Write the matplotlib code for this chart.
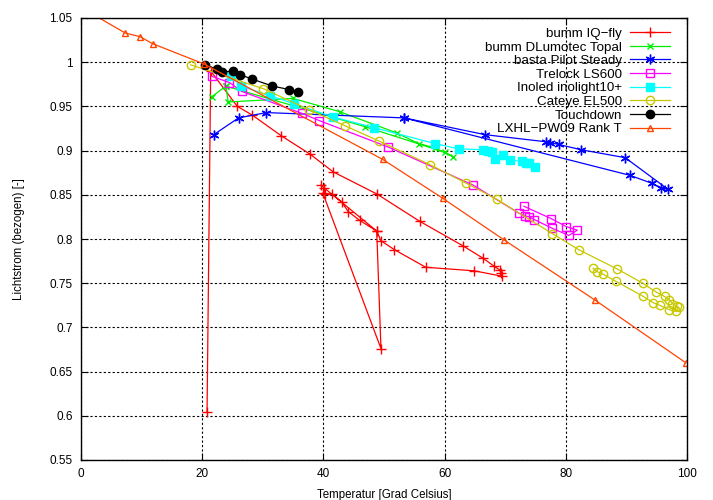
import matplotlib
matplotlib.use('Agg')
import matplotlib.pyplot as plt

plt.rcParams['font.family'] = ['Liberation Sans', 'DejaVu Sans']

# bumm IQ-fly
iq_t = [20.8, 21.4, 25.8, 28.3, 33.0, 37.8, 41.6, 48.8, 55.9, 63.1, 66.4, 68.2, 69.1, 69.3, 69.4,
        64.9, 56.9, 51.7, 49.5, 48.8, 46.0, 44.1, 43.0, 41.4, 40.3, 39.9, 49.5, 48.8, 40.1, 39.6]
iq_l = [0.604, 0.990, 0.950, 0.940, 0.917, 0.896, 0.876, 0.851, 0.820, 0.792, 0.778, 0.769, 0.765, 0.762, 0.758,
        0.764, 0.768, 0.788, 0.798, 0.809, 0.821, 0.831, 0.842, 0.851, 0.851, 0.852, 0.676, 0.809, 0.858, 0.861]

# bumm DLumotec Topal
dl_t = [21.6, 23.9, 24.3, 35.0, 42.7, 52.1, 55.7, 58.4, 61.4, 60.1, 46.9, 23.9]
dl_l = [0.961, 0.973, 0.955, 0.959, 0.944, 0.920, 0.908, 0.903, 0.893, 0.898, 0.927, 0.973]

# basta Pilot Steady
bp_t = [21.9, 26.0, 30.6, 53.3, 66.7, 76.7, 77.4, 78.8, 82.5, 89.8, 96.9, 95.7, 94.2, 90.6, 53.3]
bp_l = [0.918, 0.937, 0.943, 0.937, 0.918, 0.910, 0.909, 0.907, 0.901, 0.892, 0.856, 0.858, 0.863, 0.872, 0.937]

# Trelock LS600
tl_t = [21.6, 24.5, 26.5, 36.5, 39.3, 50.7, 64.7, 72.3, 73.3, 74.0, 74.8, 77.8, 80.5, 81.9, 80.1, 77.6, 73.1]
tl_l = [0.984, 0.977, 0.967, 0.942, 0.934, 0.904, 0.861, 0.829, 0.826, 0.825, 0.822, 0.812, 0.804, 0.810, 0.814, 0.823, 0.837]

# Inoled inolight10+
in_t = [24.8, 26.4, 31.2, 35.2, 41.6, 48.3, 58.4, 62.3, 66.4, 67.2, 67.9, 68.3, 69.7, 70.8, 72.7, 73.5, 74.0, 74.9]
in_l = [0.984, 0.973, 0.962, 0.953, 0.938, 0.926, 0.908, 0.902, 0.901, 0.900, 0.898, 0.891, 0.895, 0.889, 0.888, 0.886, 0.886, 0.882]

# Cateye EL500
ce_t = [18.1, 30.1, 37.7, 43.6, 49.1, 57.6, 63.6, 68.6, 77.8, 82.1, 88.5, 92.7, 94.9, 96.3, 97.1, 97.6, 98.3, 98.6,
        98.2, 97.1, 95.5, 94.4, 92.8, 88.3, 86.2, 85.2, 84.5]
ce_l = [0.997, 0.970, 0.946, 0.928, 0.911, 0.884, 0.863, 0.845, 0.806, 0.788, 0.766, 0.750, 0.740, 0.735, 0.731, 0.727, 0.724, 0.723,
        0.718, 0.720, 0.725, 0.728, 0.735, 0.752, 0.760, 0.763, 0.767]

# Touchdown
td_t = [20.5, 22.4, 23.3, 25.0, 26.2, 28.2, 31.6, 34.4, 35.8]
td_l = [0.997, 0.992, 0.989, 0.990, 0.986, 0.981, 0.973, 0.969, 0.966]

# LXHL-PW09 Rank T
lx_t = [0.0, 7.3, 9.7, 11.8, 20.3, 49.8, 59.7, 69.8, 84.8, 99.8]
lx_l = [1.062, 1.033, 1.029, 1.021, 0.998, 0.890, 0.846, 0.799, 0.731, 0.660]

yticks = [0.55, 0.6, 0.65, 0.7, 0.75, 0.8, 0.85, 0.9, 0.95, 1.0, 1.05]
ylabels = ['0.55', '0.6', '0.65', '0.7', '0.75', '0.8', '0.85', '0.9', '0.95', '1', '1.05']
xticks = [0, 20, 40, 60, 80, 100]

fig = plt.figure(figsize=(7.13, 5.0), dpi=100)
ax = fig.add_axes([81 / 713, 40 / 500, 606 / 713, 442 / 500])

lw = 0.9
ax.plot(iq_t, iq_l, color='#ff0000', lw=lw, marker='+', ms=7, mew=1, label='bumm IQ\u2212fly')
ax.plot(dl_t, dl_l, color='#00ee00', lw=lw, marker='x', ms=5, mew=1, label='bumm DLumotec Topal')
ax.plot(bp_t, bp_l, color='#0000ff', lw=lw, marker=(6, 2, 0), ms=7, mew=1, label='basta Pilot Steady')
ax.plot(tl_t, tl_l, color='#ff00ff', lw=lw, marker='s', ms=6, mfc='none', mew=1, label='Trelock LS600')
ax.plot(in_t, in_l, color='#00ffff', lw=lw, marker='s', ms=6, mew=1, label='Inoled inolight10+')
ax.plot(ce_t, ce_l, color='#c8c800', lw=lw, marker='o', ms=6, mfc='none', mew=1, label='Cateye EL500')
ax.plot(td_t, td_l, color='#000000', lw=lw, marker='o', ms=6, label='Touchdown')
ax.plot(lx_t, lx_l, color='#ff4500', lw=lw, marker='^', ms=5, mfc='none', mew=1, label='LXHL\u2212PW09 Rank T')

ax.set_xlim(0, 100)
ax.set_ylim(0.55, 1.05)
ax.set_xticks(xticks)
ax.set_yticks(yticks)
ax.set_yticklabels(ylabels)
ax.tick_params(direction='in', top=True, right=True, length=5, labelsize=8.5, pad=6)
ax.grid(True, color='black', linestyle=(0, (2, 2)), lw=0.8)
for s in ax.spines.values():
    s.set_linewidth(1)

ax.set_xlabel('Temperatur [Grad Celsius]', fontsize=8.3, labelpad=6)
ax.set_ylabel('Lichtstrom (bezogen) [-]', fontsize=8.3, labelpad=18)

leg = ax.legend(loc='upper right', frameon=False, markerfirst=False, fontsize=9.6,
                handlelength=3.0, handletextpad=0.6, labelspacing=0.1,
                borderaxespad=0.0, borderpad=0.0,
                bbox_to_anchor=((670 - 81) / 606, 1 - 9.5 / 442))

fig.savefig('out.png', dpi=100)
